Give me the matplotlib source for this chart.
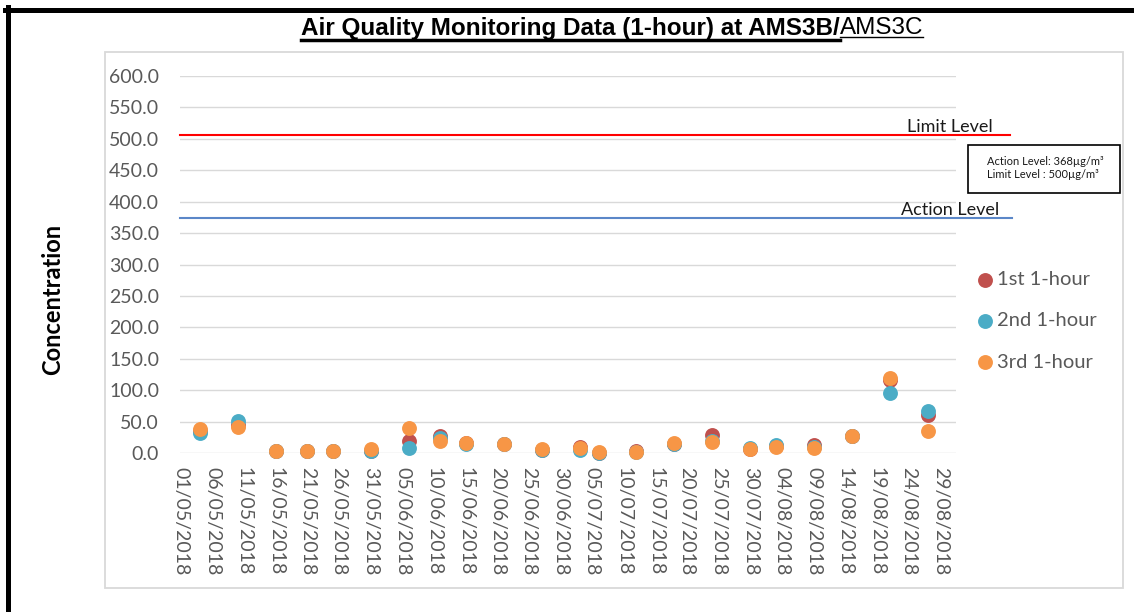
import matplotlib
matplotlib.use("Agg")
import matplotlib.pyplot as plt
import matplotlib.dates as mdates
from matplotlib import font_manager
from matplotlib.lines import Line2D
from matplotlib.patches import Rectangle
import pandas as pd

# sampling dates and the three 1-hour readings (ug/m3)
dates = [
    "2018-05-04", "2018-05-10", "2018-05-16", "2018-05-21", "2018-05-25",
    "2018-05-31", "2018-06-06", "2018-06-11", "2018-06-15", "2018-06-21",
    "2018-06-27", "2018-07-03", "2018-07-06", "2018-07-12", "2018-07-18",
    "2018-07-24", "2018-07-30", "2018-08-03", "2018-08-09", "2018-08-15",
    "2018-08-21", "2018-08-27",
]
first_hour = [36, 45, 4, 3, 4, 4, 19, 27, 16, 14, 6, 10, 1, 3, 15, 29, 7, 11, 12.5, 28, 116, 61]
second_hour = [32, 52, 4, 4, 4, 3, 9, 24, 15, 14, 6, 6, 1, 2, 15, 20, 8, 13, 10, 28, 96, 68]
third_hour = [39, 42, 4, 4, 4, 6.5, 40, 19, 16, 14.5, 6.5, 8, 1.5, 2.5, 16, 18, 7, 9.5, 8, 28, 119, 36]

series_names = ["1st 1-hour", "2nd 1-hour", "3rd 1-hour"]
series_colors = ["#C0504D", "#4BACC6", "#F79646"]

# level lines as drawn on the chart
limit_drawn = 505
action_drawn = 374
limit_text = "Limit Level : 500µg/m³"
action_text = "Action Level: 368µg/m³"

tick_dates = pd.date_range("2018-05-01", "2018-08-29", freq="5D")
y_ticks = list(range(0, 601, 50))

W, H = 1134, 612


def fx(px):
    return px / W


def fy(py):
    return 1 - py / H


available = {f.name for f in font_manager.fontManager.ttflist}
body_font = "Lato" if "Lato" in available else "DejaVu Sans"
title_font = "Liberation Sans Narrow" if "Liberation Sans Narrow" in available else "Liberation Sans"
plt.rcParams["font.family"] = [body_font, "DejaVu Sans"]

fig = plt.figure(figsize=(W / 100, H / 100), dpi=100)
fig.patch.set_facecolor("white")

# outer black frame (top and left) and grey chart box
fig.add_artist(Line2D([fx(5), fx(1134)], [fy(9.5), fy(9.5)], color="black", lw=3.6,
                      transform=fig.transFigure))
fig.add_artist(Line2D([fx(7.5), fx(7.5)], [fy(7), fy(612)], color="black", lw=3.6,
                      transform=fig.transFigure))
fig.add_artist(Rectangle((fx(105), fy(588)), fx(1123) - fx(105), fy(52) - fy(588),
                         fill=False, edgecolor="#D9D9D9", lw=1.3, transform=fig.transFigure))

ax = fig.add_axes([fx(180), fy(453.3), fx(956) - fx(180), fy(75.7) - fy(453.3)])
for spine in ax.spines.values():
    spine.set_visible(False)

x_vals = mdates.date2num(pd.to_datetime(dates))
x0 = mdates.date2num(pd.Timestamp("2018-05-01"))
ax.set_xlim(x0 - 0.15, x0 + 122.5)
ax.set_ylim(0, 600)

ax.set_yticks(y_ticks)
ax.set_yticklabels([f"{v:.1f}" for v in y_ticks])
ax.set_xticks(mdates.date2num(tick_dates))
ax.set_xticklabels([d.strftime("%d/%m/%Y") for d in tick_dates], rotation=-90)
ax.tick_params(axis="both", length=0, colors="#595959", labelsize=14)
ax.tick_params(axis="y", pad=15)
ax.tick_params(axis="x", pad=10)
ax.yaxis.grid(True, color="#D9D9D9", lw=1.0)
ax.set_axisbelow(True)

ax.axhline(limit_drawn, xmin=0, xmax=(1010 - 180) / 776, color="#FF0000", lw=1.5, clip_on=False)
ax.axhline(action_drawn, xmin=0, xmax=(1012 - 180) / 776, color="#5B87C8", lw=1.5, clip_on=False)
ax.text((950 - 180) / 776, limit_drawn + 0.5, "Limit Level", transform=ax.get_yaxis_transform(),
        ha="center", va="bottom", fontsize=13, color="#1A1A1A")
ax.text((950 - 180) / 776, action_drawn + 0.5, "Action Level", transform=ax.get_yaxis_transform(),
        ha="center", va="bottom", fontsize=13, color="#1A1A1A")

for vals, name, color in zip([first_hour, second_hour, third_hour], series_names, series_colors):
    ax.scatter(x_vals, vals, s=115, color=color, label=name, zorder=3, clip_on=False, linewidths=0)

leg = ax.legend(loc="upper left", bbox_to_anchor=(fx(977), fy(271)), bbox_transform=fig.transFigure,
                frameon=False, fontsize=14.5, labelcolor="#595959", handlelength=0.75,
                handletextpad=0.25, labelspacing=1.2, borderpad=0, borderaxespad=0,
                scatterpoints=1)

# level info box
fig.add_artist(Rectangle((fx(968), fy(193)), fx(1120) - fx(968), fy(145) - fy(193),
                         fill=False, edgecolor="black", lw=1.2, transform=fig.transFigure))
fig.text(fx(987), fy(161.5), action_text, fontsize=8, va="center", ha="left", color="#1A1A1A")
fig.text(fx(987), fy(174.5), limit_text, fontsize=8, va="center", ha="left", color="#1A1A1A")

fig.text(fx(53), fy(299), "Concentration", rotation=90, fontsize=17, fontweight="bold",
         ha="center", va="center", color="black")

# title in two parts, both underlined
t1 = fig.text(fx(301), fy(34.5), "Air Quality Monitoring Data (1-hour) at AMS3B/",
              family=[title_font, "DejaVu Sans"], fontsize=17.5, fontweight="bold",
              ha="left", va="baseline", color="black")
fig.canvas.draw()
renderer = fig.canvas.get_renderer()
b1 = t1.get_window_extent(renderer)
t2 = fig.text(b1.x1 / W, fy(34.5), "AMS3C", family=[title_font, "DejaVu Sans"], fontsize=17.5,
              ha="left", va="baseline", color="black")
fig.canvas.draw()
b2 = t2.get_window_extent(renderer)
fig.add_artist(Line2D([b1.x0 / W, b1.x1 / W], [fy(39.5), fy(39.5)], color="black", lw=2.5,
                      transform=fig.transFigure))
fig.add_artist(Line2D([b2.x0 / W, b2.x1 / W], [fy(37), fy(37)], color="black", lw=1.0,
                      transform=fig.transFigure))

fig.savefig("out.png", dpi=100)
